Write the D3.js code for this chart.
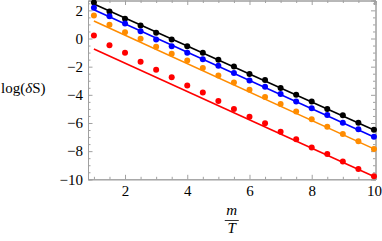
<!DOCTYPE html>
<html>
<head>
<meta charset="utf-8">
<script src="https://cdn.jsdelivr.net/npm/d3@7"></script>
<style>
  html, body { margin: 0; padding: 0; background: #fff; }
  .frame path, .frame line { stroke: #a0a0a0; stroke-width: 1; }
  svg text { font-family: 'Liberation Serif', 'Times New Roman', serif; }
</style>
</head>
<body>
<div id="chart"></div>
<script>
(function() {
  // sampled m/T values
  var xs = [1, 1.5, 2, 2.5, 3, 3.5, 4, 4.5, 5, 5.5, 6, 6.5, 7, 7.5, 8, 8.5, 9, 9.5, 10];

  var blackPts = [2.55, 1.91, 1.41, 0.93, 0.41, -0.07, -0.55, -1.02, -1.5, -1.98,
    -2.52, -2.95, -3.52, -4.0, -4.48, -5.0, -5.45, -5.98, -6.48];
  var bluePts = [2.19, 1.59, 1.07, 0.52, -0.07, -0.55, -1.02, -1.48, -1.93, -2.45,
    -2.98, -3.42, -3.95, -4.48, -4.95, -5.44, -5.98, -6.45, -6.98];
  var orangePts = [1.64, 0.98, 0.45, -0.02, -0.59, -1.09, -1.57, -2.09, -2.62, -3.12,
    -3.64, -4.16, -4.66, -5.19, -5.74, -6.27, -6.79, -7.29, -7.84];
  var redPts = [0.21, -0.48, -1.02, -1.65, -2.21, -2.76, -3.34, -3.84, -4.43, -5.0,
    -5.55, -6.02, -6.62, -7.16, -7.74, -8.21, -8.74, -9.26, -9.79];

  // straight fit lines, value at m/T = 1 and m/T = 10
  var lineX = [1, 10];
  var blackLine = [2.45, -6.5];
  var blueLine = [2.05, -7.0];
  var orangeLine = [1.24, -7.84];
  var redLine = [-0.74, -9.8];

  var xMajor = [2, 4, 6, 8, 10];
  var yMajor = [-10, -8, -6, -4, -2, 0, 2];

  var series = [
    { pts: blackPts, line: blackLine, color: '#000000' },
    { pts: bluePts, line: blueLine, color: '#0000ff' },
    { pts: orangePts, line: orangeLine, color: '#ff8c00' },
    { pts: redPts, line: redLine, color: '#ff0000' }
  ];

  var width = 382;
  var height = 241;
  var left = 88, right = 375.5, top = 0.5, bottom = 179.3;

  var x = d3.scaleLinear().domain([0.81, 10.05]).range([left, right]);
  var y = d3.scaleLinear().domain([-10, 2.7]).range([bottom, top]);

  var xMinor = d3.range(1, 10.01, 0.5).filter(function(v) { return xMajor.indexOf(v) < 0; });
  var yMinor = d3.range(-9.5, 2.6, 0.5).filter(function(v) { return yMajor.indexOf(v) < 0; });

  var svg = d3.select('#chart').append('svg')
    .attr('width', width)
    .attr('height', height);

  function frameAxis(axis, transform) {
    var g = svg.append('g').attr('class', 'frame').attr('transform', transform).call(axis);
    g.attr('font-family', null).attr('font-size', 15);
    g.selectAll('text').attr('fill', '#000');
    return g;
  }

  // bottom + left with labels, top + right ticks only
  frameAxis(d3.axisBottom(x).tickValues(xMajor).tickSize(-4.5).tickPadding(6).tickFormat(d3.format('d')),
    'translate(0,' + bottom + ')');
  frameAxis(d3.axisBottom(x).tickValues(xMinor).tickSize(-2.5).tickFormat(''),
    'translate(0,' + bottom + ')');
  frameAxis(d3.axisTop(x).tickValues(xMajor).tickSize(-4.5).tickFormat(''),
    'translate(0,' + top + ')');
  frameAxis(d3.axisTop(x).tickValues(xMinor).tickSize(-2.5).tickFormat(''),
    'translate(0,' + top + ')');

  var yFmt = function(d) { return d < 0 ? '\u2212' + Math.abs(d) : String(d); };
  frameAxis(d3.axisLeft(y).tickValues(yMajor).tickSize(-4.5).tickPadding(5).tickFormat(yFmt),
    'translate(' + left + ',0)');
  frameAxis(d3.axisLeft(y).tickValues(yMinor).tickSize(-2.5).tickFormat(''),
    'translate(' + left + ',0)');
  frameAxis(d3.axisRight(y).tickValues(yMajor).tickSize(-4.5).tickFormat(''),
    'translate(' + right + ',0)');
  frameAxis(d3.axisRight(y).tickValues(yMinor).tickSize(-2.5).tickFormat(''),
    'translate(' + right + ',0)');

  svg.selectAll('.frame .domain').attr('stroke', '#a0a0a0');

  var plot = svg.append('g');
  var line = d3.line()
    .x(function(d) { return x(d[0]); })
    .y(function(d) { return y(d[1]); });

  series.forEach(function(s) {
    plot.append('path')
      .datum(d3.zip(lineX, s.line))
      .attr('d', line)
      .attr('fill', 'none')
      .attr('stroke', s.color)
      .attr('stroke-width', 1.6);

    plot.selectAll(null)
      .data(d3.zip(xs, s.pts))
      .enter().append('circle')
      .attr('cx', function(d) { return x(d[0]); })
      .attr('cy', function(d) { return y(d[1]); })
      .attr('r', 3)
      .attr('fill', s.color);
  });

  // axis labels
  var ylab = svg.append('text')
    .attr('x', 1)
    .attr('y', 93)
    .attr('font-size', 15)
    .text('log(');
  ylab.append('tspan').attr('font-style', 'italic').text('\u03b4');
  ylab.append('tspan').text('S)');

  var fx = (left + right) / 2;
  svg.append('text')
    .attr('x', fx)
    .attr('y', 215)
    .attr('text-anchor', 'middle')
    .attr('font-size', 15)
    .attr('font-style', 'italic')
    .text('m');
  svg.append('line')
    .attr('x1', fx - 7).attr('x2', fx + 7)
    .attr('y1', 220.5).attr('y2', 220.5)
    .attr('stroke', '#000').attr('stroke-width', 0.8);
  svg.append('text')
    .attr('x', fx)
    .attr('y', 233)
    .attr('text-anchor', 'middle')
    .attr('font-size', 15)
    .attr('font-style', 'italic')
    .text('T');
})();
</script>
</body>
</html>
